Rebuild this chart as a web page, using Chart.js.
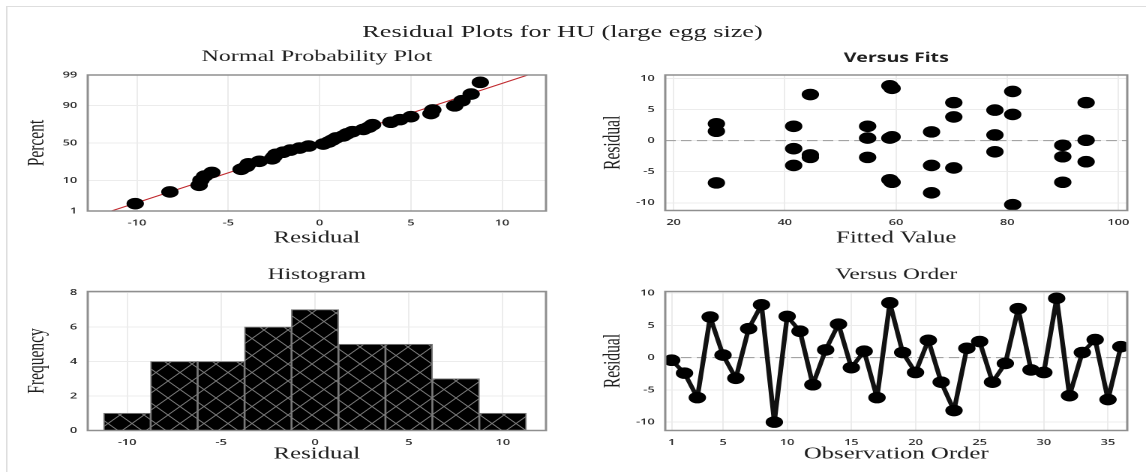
<!DOCTYPE html>
<html>
<head>
<meta charset="utf-8">
<title>Residual Plots for HU</title>
<script src="https://cdn.jsdelivr.net/npm/chart.js@4.4.1/dist/chart.umd.min.js"></script>
<style>
  html, body { margin: 0; padding: 0; background: #fff; overflow: hidden; }
  /* the reference is stretched sideways, so the whole page is drawn narrow and scaled */
  #page { position: absolute; left: 0; top: 0; width: 764px; height: 472px; transform: scaleX(1.5); transform-origin: 0 0; }
  #edge { position: absolute; left: 4px; top: 6px; width: 800px; height: 500px; border-top: 1.5px solid #dedede; border-left: 1px solid #dedede; }
  #mainTitle { position: absolute; left: 0; top: 21px; width: 750px; text-align: center; font: 17.5px 'Liberation Serif', serif; line-height: 20px; color: #222; }
  canvas { position: absolute; }
</style>
</head>
<body>
<div id="page">
  <div id="edge"></div>
  <div id="mainTitle">Residual Plots for HU (large egg size)</div>
  <canvas id="normal" width="380" height="214" style="left:0;top:36px"></canvas>
  <canvas id="fits" width="384" height="214" style="left:380px;top:36px"></canvas>
  <canvas id="hist" width="380" height="210" style="left:0;top:262px"></canvas>
  <canvas id="order" width="384" height="210" style="left:380px;top:262px"></canvas>
</div>
<script>
// normal probability plot (sorted residuals vs percent)
const normResid = [-10.1, -8.2, -6.6, -6.5, -6.3, -5.9, -4.3, -4.0, -3.9, -3.3, -2.6, -2.5, -2.4, -2.0, -1.6, -1.1, -0.6, 0.2,
                   0.5, 0.7, 0.9, 1.3, 1.5, 1.8, 2.4, 2.7, 2.9, 3.9, 4.4, 5.0, 6.1, 6.2, 7.4, 7.8, 8.3, 8.8];
const normPct = [1.9, 4.7, 7.4, 10.2, 12.9, 15.7, 18.4, 21.2, 23.9, 26.6, 29.4, 32.1, 34.9, 37.6, 40.4, 43.1, 45.9, 48.6,
                 51.4, 54.1, 56.9, 59.6, 62.4, 65.1, 67.9, 70.6, 73.4, 76.1, 78.8, 81.6, 84.3, 87.1, 89.8, 92.6, 95.3, 98.1];
const fitLineResid = [-11.4, 11.4];
const fitLinePct = [1, 99];
const normTicksX = [-10, -5, 0, 5, 10];
const normTicksY = [1, 10, 50, 90, 99];

// versus fits
const fitted = [27.7, 27.7, 27.7, 41.6, 41.6, 41.6, 44.6, 44.6, 44.6, 54.9, 54.9, 54.9, 58.9, 58.9, 58.9, 59.3, 59.3, 59.3,
                66.4, 66.4, 66.4, 70.4, 70.4, 70.4, 77.8, 77.8, 77.8, 81.0, 81.0, 81.0, 90.0, 90.0, 90.0, 94.2, 94.2, 94.2];
const fitResid = [2.7, 1.5, -6.8, 2.3, -1.3, -4.0, 7.4, -2.3, -2.7, 2.3, 0.4, -2.7, 8.8, 0.4, -6.3, 8.4, 0.6, -6.7,
                  1.4, -4.0, -8.4, 6.1, 3.8, -4.4, 4.9, 0.9, -1.8, 7.9, 4.2, -10.3, -0.75, -2.6, -6.7, 6.1, 0.05, -3.4];
const fitsTicksX = [20, 40, 60, 80, 100];
const residTicks = [-10, -5, 0, 5, 10];

// histogram
const binMids = [-10, -7.5, -5, -2.5, 0, 2.5, 5, 7.5, 10];
const binCounts = [1, 4, 4, 6, 7, 5, 5, 3, 1];
const histTicksY = [0, 2, 4, 6, 8];

// versus order
const orderResid = [-0.4, -2.4, -6.2, 6.3, 0.4, -3.2, 4.5, 8.2, -10.0, 6.4, 4.1, -4.2, 1.2, 5.2, -1.55, 1.0, -6.2, 8.5,
                    0.8, -2.3, 2.7, -3.8, -8.2, 1.45, 2.5, -3.8, -0.9, 7.6, -1.9, -2.3, 9.2, -5.9, 0.8, 2.8, -6.5, 1.7];
const orderTicksX = [1, 5, 10, 15, 20, 25, 30, 35];

Chart.defaults.font.family = "'Open Sans', 'Noto Sans', sans-serif";
Chart.defaults.font.size = 8.5;
Chart.defaults.font.weight = '600';
Chart.defaults.color = '#2a2a2a';
Chart.defaults.animation = false;
Chart.defaults.plugins.legend.display = false;
Chart.defaults.plugins.tooltip.enabled = false;

const gridColor = '#ececec';
const textColor = '#1e1e1e';
const serif = size => ({ family: "'Liberation Serif', 'Times New Roman', serif", size: size, weight: 'normal' });

// inverse normal cdf, used as the transform of the probability axis
function probit(p) {
    const a = [-39.69683028665376, 220.9460984245205, -275.9285104469687, 138.3577518672690, -30.66479806614716, 2.506628277459239];
    const b = [-54.47609879822406, 161.5858368580409, -155.6989798598866, 66.80131188771972, -13.28068155288572];
    const c = [-0.007784894002430293, -0.3223964580411365, -2.400758277161838, -2.549732539343734, 4.374664141464968, 2.938163982698783];
    const d = [0.007784695709041462, 0.3224671290700398, 2.445134137142996, 3.754408661907416];
    const tail = q => (((((c[0] * q + c[1]) * q + c[2]) * q + c[3]) * q + c[4]) * q + c[5]) / ((((d[0] * q + d[1]) * q + d[2]) * q + d[3]) * q + 1);
    if (p < 0.02425) return tail(Math.sqrt(-2 * Math.log(p)));
    if (p > 1 - 0.02425) return -tail(Math.sqrt(-2 * Math.log(1 - p)));
    const q = p - 0.5, r = q * q;
    return (((((a[0] * r + a[1]) * r + a[2]) * r + a[3]) * r + a[4]) * r + a[5]) * q /
           (((((b[0] * r + b[1]) * r + b[2]) * r + b[3]) * r + b[4]) * r + 1);
}

function xAxis(min, max, values, text, titleBottom, height) {
    return {
        type: 'linear', min: min, max: max, offset: false,
        afterBuildTicks: s => { s.ticks = values.map(v => ({ value: v })); },
        afterFit: s => { s.height = height; },
        grid: { color: gridColor, drawTicks: false, offset: false },
        border: { display: false },
        ticks: { padding: 7, autoSkip: false, maxRotation: 0 },
        title: { display: true, text: text, font: serif(16.5), color: textColor, padding: { top: 0, bottom: titleBottom } }
    };
}

function yAxis(min, max, values, labels, text, titleTop, width) {
    return {
        type: 'linear', min: min, max: max,
        afterBuildTicks: s => { s.ticks = values.map(v => ({ value: v })); },
        afterFit: s => { s.width = width; },
        grid: { color: gridColor, drawTicks: false },
        border: { display: false },
        ticks: { padding: 7, autoSkip: false, callback: (v, i) => labels[i] },
        title: { display: true, text: text, font: serif(15.5), color: textColor, padding: { top: titleTop, bottom: 0 } }
    };
}

function plotTitle(text, font, top, bottom) {
    return { display: true, fullSize: false, text: text, font: font, color: textColor, padding: { top: top, bottom: bottom } };
}

const framePlugin = {
    id: 'frame',
    afterDatasetsDraw(chart) {
        const { ctx, chartArea: a } = chart;
        ctx.save();
        ctx.strokeStyle = '#8f8f8f';
        ctx.lineWidth = 1.5;
        ctx.strokeRect(a.left, a.top, a.right - a.left, a.bottom - a.top);
        ctx.restore();
    }
};

const zeroLinePlugin = {
    id: 'zeroLine',
    beforeDatasetsDraw(chart) {
        const { ctx, chartArea: a, scales } = chart;
        const y = scales.y.getPixelForValue(0);
        ctx.save();
        ctx.strokeStyle = '#9a9a9a';
        ctx.lineWidth = 1;
        ctx.setLineDash([7, 3.5]);
        ctx.beginPath();
        ctx.moveTo(a.left, y);
        ctx.lineTo(a.right, y);
        ctx.stroke();
        ctx.restore();
    }
};

// black fill with grey cross-hatching, tile drawn at 2x for the 2x canvas
function crossHatch(targetCtx) {
    const w = 32, h = 34;
    const tile = document.createElement('canvas');
    tile.width = w;
    tile.height = h;
    const g = tile.getContext('2d');
    g.fillStyle = '#000';
    g.fillRect(0, 0, w, h);
    g.strokeStyle = '#7d7d7d';
    g.lineWidth = 1.6;
    g.beginPath();
    g.moveTo(-w / 2, -h / 2); g.lineTo(w * 1.5, h * 1.5);
    g.moveTo(w * 1.5, -h / 2); g.lineTo(-w / 2, h * 1.5);
    g.stroke();
    const pattern = targetCtx.createPattern(tile, 'repeat');
    pattern.setTransform(new DOMMatrix().scale(0.5));
    return pattern;
}

const pointStyle = { backgroundColor: '#000', pointBorderWidth: 0, pointRadius: 5.8, pointHoverRadius: 5.8 };

new Chart(document.getElementById('normal'), {
    type: 'scatter',
    data: {
        datasets: [
            Object.assign({ data: normResid.map((x, i) => ({ x: x, y: probit(normPct[i] / 100) })), order: 1 }, pointStyle),
            {
                type: 'line',
                data: fitLineResid.map((x, i) => ({ x: x, y: probit(fitLinePct[i] / 100) })),
                borderColor: '#c0282d', borderWidth: 1, pointRadius: 0, order: 2
            }
        ]
    },
    options: {
        responsive: false,
        devicePixelRatio: 2,
        layout: { padding: { right: 16 } },
        plugins: { title: plotTitle('Normal Probability Plot', serif(16), 11.1, 8.7) },
        scales: {
            x: xAxis(-12.7, 12.4, normTicksX, 'Residual', 2.1, 39),
            y: yAxis(probit(0.01), probit(0.99), normTicksY.map(p => probit(p / 100)), normTicksY, 'Percent', 15.7, 58.5)
        }
    },
    plugins: [framePlugin]
});

new Chart(document.getElementById('fits'), {
    type: 'scatter',
    data: {
        datasets: [Object.assign({ data: fitted.map((x, i) => ({ x: x, y: fitResid[i] })) }, pointStyle)]
    },
    options: {
        responsive: false,
        devicePixelRatio: 2,
        layout: { padding: { right: 12.5 } },
        plugins: {
            title: plotTitle('Versus Fits', { family: "'Open Sans', 'Noto Sans', sans-serif", size: 13, weight: 'bold' }, 14.5, 8.9)
        },
        scales: {
            x: xAxis(18.5, 101.6, fitsTicksX, 'Fitted Value', 2.1, 39.5),
            y: yAxis(-11.24, 10.54, residTicks, residTicks, 'Residual', 19.7, 63.5)
        }
    },
    plugins: [zeroLinePlugin, framePlugin]
});

const histCanvas = document.getElementById('hist');
new Chart(histCanvas, {
    type: 'bar',
    data: {
        datasets: [{
            data: binMids.map((x, i) => ({ x: x, y: binCounts[i] })),
            backgroundColor: crossHatch(histCanvas.getContext('2d')),
            borderColor: '#7a7a7a',
            borderWidth: 1,
            barPercentage: 1,
            categoryPercentage: 1
        }]
    },
    options: {
        responsive: false,
        devicePixelRatio: 2,
        layout: { padding: { right: 16 } },
        plugins: { title: plotTitle('Histogram', serif(15.5), 3.7, 7.2) },
        scales: {
            x: xAxis(-12.1, 12.3, normTicksX, 'Residual', 8.1, 41.5),
            y: yAxis(0, 8.05, histTicksY, histTicksY, 'Frequency', 15.7, 58.5)
        }
    },
    plugins: [framePlugin]
});

new Chart(document.getElementById('order'), {
    type: 'scatter',
    data: {
        datasets: [Object.assign({
            data: orderResid.map((y, i) => ({ x: i + 1, y: y })),
            showLine: true, borderColor: '#111', borderWidth: 3.2, borderJoinStyle: 'round', borderCapStyle: 'round'
        }, pointStyle)]
    },
    options: {
        responsive: false,
        devicePixelRatio: 2,
        layout: { padding: { right: 12.5 } },
        plugins: { title: plotTitle('Versus Order', serif(15.5), 3.7, 7.2) },
        scales: {
            x: xAxis(0.5, 36.5, orderTicksX, 'Observation Order', 8.1, 41.5),
            y: yAxis(-11.3, 10.26, residTicks, residTicks, 'Residual', 19.7, 63.5)
        }
    },
    plugins: [zeroLinePlugin, framePlugin]
});
</script>
</body>
</html>
